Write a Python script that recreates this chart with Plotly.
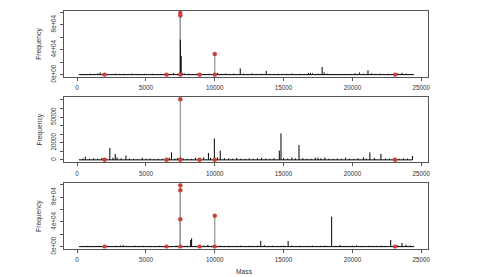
import plotly.graph_objects as go

W, H = 479, 277

# ---- data ----
p1_mass = [150, 420, 700, 980, 1250, 1500, 1680, 1900, 2150, 2450, 2800, 3100, 3400, 3700, 4000,
           4300, 4600, 4900, 5200, 5500, 5800, 6100, 6400, 6700, 7000, 7300, 7450, 7500, 7560,
           7650, 7800, 8100, 8400, 8700, 9000, 9300, 9600, 9900, 10200, 10500, 10800, 11100,
           11400, 11850, 12100, 12400, 12700, 13000, 13400, 13740, 14000, 14300, 14600, 14900,
           15200, 15600, 15900, 16200, 16500, 16800, 16950, 17100, 17300, 17500, 17800, 17950,
           18200, 18500, 18800, 19100, 19500, 19900, 20200, 20500, 20800, 21130, 21400, 21700,
           22000, 22300, 22600, 22900, 23300, 23600, 23900, 24200, 24450]
p1_freq = [800, 1200, 900, 1500, 1100, 1800, 3500, 2200, 1300, 900, 1600, 1100, 1400, 900, 1700,
           1200, 900, 1300, 1000, 1500, 1100, 900, 1300, 1000, 2400, 1500, 3000, 56000, 30000,
           2500, 1800, 1400, 1100, 1600, 1200, 900, 1500, 1200, 2600, 1300, 1900, 1100,
           1600, 10000, 1500, 1100, 1900, 1300, 1500, 6000, 1200, 900, 1500, 1000,
           1300, 1700, 1000, 1400, 1100, 2600, 3000, 2200, 1200, 1600, 12300, 3500,
           1500, 1100, 1300, 1000, 1200, 900, 2200, 3500, 1400, 7000, 2000, 1300,
           1600, 1100, 1400, 1000, 2200, 3000, 1600, 1200, 900]

p2_mass = [150, 420, 600, 900, 1200, 1500, 1800, 2100, 2380, 2600, 2770, 2900, 3200, 3550, 3800,
           4100, 4400, 4730, 5000, 5300, 5600, 5900, 6200, 6500, 6700, 6860, 7100, 7300, 7500,
           7700, 8000, 8300, 8600, 8900, 9200, 9540, 9700, 9970, 10200, 10400, 10700, 11000,
           11300, 11600, 11900, 12200, 12500, 12800, 13100, 13400, 13700, 14000, 14300, 14690,
           14810, 15000, 15300, 15600, 15850, 16120, 16400, 16700, 17000, 17300, 17500, 17700,
           18000, 18300, 18600, 18900, 19200, 19500, 19800, 20100, 20400, 20800, 21000, 21270,
           21600, 22070, 22400, 22700, 23000, 23400, 23700, 24000, 24360]
p2_freq = [600, 1500, 3500, 1200, 1800, 1400, 2200, 1600, 14000, 2500, 7000, 3000, 1800, 5000, 1500,
           1200, 1000, 2500, 1300, 1600, 1000, 1400, 1200, 1800, 2500, 8800, 1500, 2200, 3000,
           1800, 1400, 1200, 2500, 1600, 3000, 8100, 2500, 25000, 2800, 10800, 2000, 1600,
           1400, 2200, 1500, 1300, 1700, 1200, 1800, 2400, 1600, 1300, 2000, 10800,
           31000, 2200, 1500, 3000, 1800, 17400, 2000, 1500, 1300, 2600, 2800, 1800,
           2900, 1500, 1200, 1600, 1300, 2700, 1400, 1200, 1800, 3000, 1600, 8800,
           2200, 7000, 1600, 1400, 2000, 1300, 1800, 1500, 4500]

p3_mass = [150, 450, 750, 1050, 1350, 1650, 1950, 2250, 2550, 2850, 3150, 3350, 3600, 3900, 4200,
           4500, 4800, 5100, 5400, 5700, 6000, 6300, 6600, 6900, 7200, 7500, 7800, 8000, 8250,
           8320, 8600, 8900, 9200, 9500, 9800, 10100, 10400, 10700, 11000, 11300, 11600, 11900,
           12200, 12500, 12800, 13100, 13340, 13600, 13900, 14200, 14500, 14800, 15000, 15330,
           15600, 15900, 16200, 16500, 16800, 17100, 17400, 17700, 18000, 18200, 18490, 18800,
           19100, 19400, 19700, 20000, 20300, 20600, 20900, 21200, 21500, 21800, 22100, 22400,
           22780, 23000, 23300, 23600, 23900, 24200, 24450]
p3_freq = [600, 900, 1300, 800, 1100, 1500, 900, 1200, 1000, 1400, 1800, 2500, 1300, 900, 1600,
           1100, 1400, 900, 1200, 1000, 1500, 1100, 1300, 1000, 1800, 2000, 1200, 1600, 10700,
           13500, 1400, 1100, 1800, 3000, 1500, 1200, 1600, 1100, 1400, 900, 1300, 1700,
           1000, 1400, 1200, 1600, 9200, 2500, 1200, 1500, 1000, 1300, 1600, 9200,
           1800, 1100, 1400, 1000, 1300, 1500, 1100, 1400, 1800, 1200, 48400, 1500,
           2600, 1300, 1000, 1500, 2200, 1200, 1000, 1400, 1100, 1300, 1600, 1200,
           10800, 1500, 2000, 6000, 3000, 1800, 1200]

# highlighted peaks (red points, drawn with grey stems)
p1_red_mass = [2000, 6500, 7500, 7500, 7500, 8900, 10000, 10000, 23100]
p1_red_freq = [0, 0, 0, 94500, 98500, 0, 0, 33000, 0]
p2_red_mass = [2000, 6500, 7500, 7500, 8900, 10000, 23100]
p2_red_freq = [0, 0, 0, 71000, 0, 0, 0]
p3_red_mass = [2000, 6500, 7500, 7500, 7500, 7500, 8900, 10000, 10000, 23100]
p3_red_freq = [0, 0, 0, 44000, 91000, 99000, 0, 0, 50000, 0]

x_ticks = [0, 5000, 10000, 15000, 20000, 25000]
x_ticktext = ["0", "5000", "10000", "15000", "20000", "25000"]
y1_ticks = [0, 20000, 40000, 60000, 80000, 100000]
y1_ticktext = ["0e+00", "", "4e+04", "", "8e+04", ""]
y2_ticks = [0, 10000, 20000, 30000, 40000, 50000, 60000, 70000]
y2_ticktext = ["0", "", "20000", "", "", "50000", "", ""]
y3_ticks = y1_ticks
y3_ticktext = y1_ticktext

x_title = "Mass"
y_title = "Frequency"

# ---- style ----
FONT = "Liberation Sans, Arial, sans-serif"
FS = 6.3
AX = "#555555"
TXT = "#333333"
RED = "#c8413b"
GREY = "#9a9a9a"

panels = [
    (p1_mass, p1_freq, p1_red_mass, p1_red_freq, y1_ticks, y1_ticktext, [-3300, 101900], (11, 76.7)),
    (p2_mass, p2_freq, p2_red_mass, p2_red_freq, y2_ticks, y2_ticktext, [-2850, 73850], (96.7, 162.3)),
    (p3_mass, p3_freq, p3_red_mass, p3_red_freq, y3_ticks, y3_ticktext, [-3000, 102200], (183.3, 248.5)),
]

def stems(xs, ys):
    sx, sy = [], []
    for x, y in zip(xs, ys):
        sx += [x, x, None]
        sy += [0, y, None]
    return sx, sy

fig = go.Figure()
layout = dict(
    width=W, height=H, margin=dict(l=0, r=0, t=0, b=0),
    paper_bgcolor="white", plot_bgcolor="white", showlegend=False,
    font=dict(family=FONT, size=FS, color=TXT),
)
annotations = []
xdom = [64 / W, 428 / W]
for i, (m, f, rm, rf, yt, ytt, yr, (top, bot)) in enumerate(panels, start=1):
    xa = "x" if i == 1 else f"x{i}"
    ya = "y" if i == 1 else f"y{i}"
    # baseline spanning the data range
    fig.add_trace(go.Scatter(x=[min(m), max(m)], y=[0, 0], mode="lines",
                             line=dict(color="black", width=1), xaxis=xa, yaxis=ya,
                             hoverinfo="skip"))
    # grey stems for highlighted peaks
    gx, gy = stems(rm, rf)
    fig.add_trace(go.Scatter(x=gx, y=gy, mode="lines", line=dict(color=GREY, width=1.3),
                             xaxis=xa, yaxis=ya, hoverinfo="skip"))
    # spectrum spikes
    sx, sy = stems(m, f)
    fig.add_trace(go.Scatter(x=sx, y=sy, mode="lines", line=dict(color="black", width=1),
                             xaxis=xa, yaxis=ya))
    # red points
    fig.add_trace(go.Scatter(x=rm, y=rf, mode="markers",
                             marker=dict(color=RED, size=4.5, line=dict(width=0)),
                             xaxis=xa, yaxis=ya))
    ydom = [1 - bot / H, 1 - top / H]
    layout["xaxis" if i == 1 else f"xaxis{i}"] = dict(
        domain=xdom, anchor=ya, range=[-950, 25490], tickvals=x_ticks, ticktext=x_ticktext,
        showgrid=False, zeroline=False, showline=True, mirror=True, linecolor=AX, linewidth=1,
        ticks="outside", ticklen=3, tickcolor=AX, tickwidth=1, automargin=False,
        ticklabelstandoff=2, tickfont=dict(size=FS, color=TXT),
    )
    layout["yaxis" if i == 1 else f"yaxis{i}"] = dict(
        domain=ydom, anchor=xa, range=yr, tickvals=yt, ticktext=ytt,
        showgrid=False, zeroline=False, showline=True, mirror=True, linecolor=AX, linewidth=1,
        ticks="outside", ticklen=3, tickcolor=AX, tickwidth=1, automargin=False,
        tickangle=-90, ticklabelstandoff=1, tickfont=dict(size=FS, color=TXT),
    )
    annotations.append(dict(text=y_title, x=39 / W, y=1 - (top + bot) / 2 / H,
                            xref="paper", yref="paper", showarrow=False, textangle=-90,
                            font=dict(size=FS + 0.4, color=TXT), xanchor="center", yanchor="middle"))

annotations.append(dict(text=x_title, x=244 / W, y=1 - 271.5 / H, xref="paper", yref="paper",
                        showarrow=False, font=dict(size=FS + 0.4, color=TXT),
                        xanchor="center", yanchor="middle"))
layout["annotations"] = annotations
fig.update_layout(**layout)
fig.write_html("out.html")
